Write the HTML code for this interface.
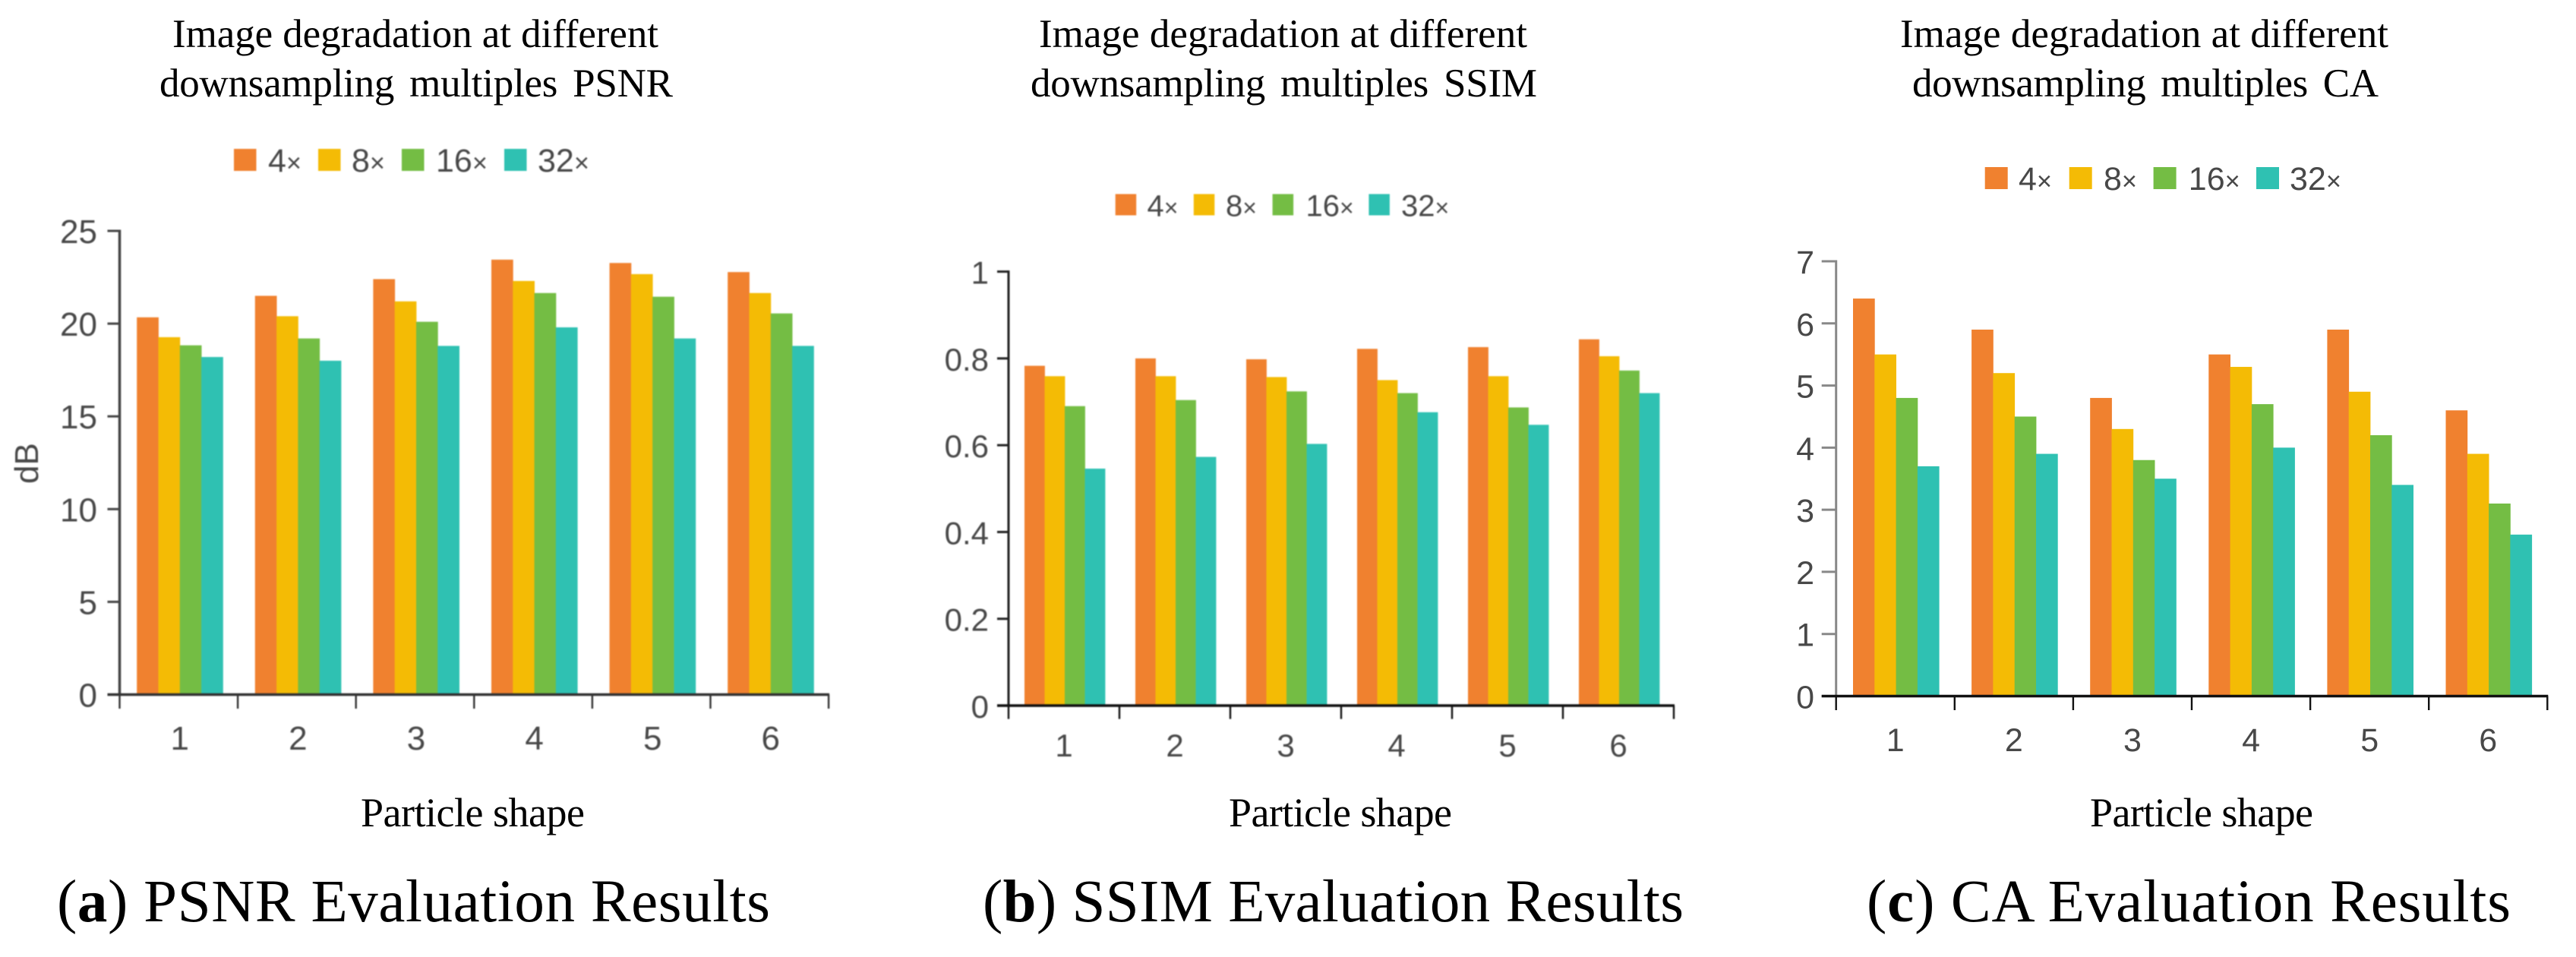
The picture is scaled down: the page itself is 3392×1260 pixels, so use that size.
<!DOCTYPE html>
<html lang="en">
<head>
<meta charset="utf-8">
<title>Image degradation evaluation results</title>
<style>
html,body{margin:0;padding:0;background:#fff;width:3392px;height:1260px;overflow:hidden}
svg{display:block}
.title{font-family:"Liberation Serif",serif;font-size:53px;fill:#000}
.xtitle{font-family:"Liberation Serif",serif;font-size:54px;fill:#000}
.caption{font-family:"Liberation Serif",serif;font-size:79px;fill:#000}
.tick{font-family:"Liberation Sans",sans-serif;fill:#484848}
.legend{font-family:"Liberation Sans",sans-serif;fill:#484848}
.soft{filter:blur(0.8px)}
</style>
</head>
<body>
<svg id="figure" xmlns="http://www.w3.org/2000/svg" width="3392" height="1260" viewBox="0 0 3392 1260">
  <rect x="0" y="0" width="3392" height="1260" fill="#fff"/>

  <g id="panel-a">
    <text class="title" x="227" y="62" textLength="640">Image degradation at different</text>
    <text class="title" x="210" y="127" textLength="676" style="word-spacing:7px">downsampling multiples PSNR</text>
    <text class="tick soft" font-size="44" transform="translate(50,637) rotate(-90)">dB</text>
    <text class="xtitle" x="475" y="1088" textLength="295">Particle shape</text>
    <text class="caption" x="75" y="1213" textLength="939">(<tspan font-weight="bold">a</tspan>) PSNR Evaluation Results</text>
  </g>

  <g id="panel-b">
    <text class="title" x="1368" y="62" textLength="643">Image degradation at different</text>
    <text class="title" x="1357" y="127" textLength="667" style="word-spacing:7px">downsampling multiples SSIM</text>
    <text class="xtitle" x="1618" y="1088" textLength="294">Particle shape</text>
    <text class="caption" x="1294" y="1213" textLength="923">(<tspan font-weight="bold">b</tspan>) SSIM Evaluation Results</text>
  </g>

  <g id="panel-c">
    <text class="title" x="2502" y="62" textLength="643">Image degradation at different</text>
    <text class="title" x="2518" y="127" textLength="614" style="word-spacing:7px">downsampling multiples CA</text>
    <text class="xtitle" x="2752" y="1088" textLength="294">Particle shape</text>
    <text class="caption" x="2458" y="1213" textLength="848">(<tspan font-weight="bold">c</tspan>) CA Evaluation Results</text>
  </g>
</svg>

<script>
// Shared categories and series labels
const categories = ['1', '2', '3', '4', '5', '6'];
const seriesLabels = ['4×', '8×', '16×', '32×'];
const seriesColors = ['#F0812F', '#F4BB05', '#74BD44', '#2FC1B2'];

// PSNR values (dB)
const psnr4x = [20.34, 21.5, 22.4, 23.45, 23.27, 22.78];
const psnr8x = [19.27, 20.4, 21.2, 22.3, 22.67, 21.65];
const psnr16x = [18.83, 19.2, 20.1, 21.65, 21.45, 20.55];
const psnr32x = [18.2, 18.0, 18.8, 19.8, 19.2, 18.8];
const psnrTicks = [0, 5, 10, 15, 20, 25];
const psnrTickLabels = ['0', '5', '10', '15', '20', '25'];

// SSIM values
const ssim4x = [0.783, 0.8, 0.798, 0.822, 0.826, 0.844];
const ssim8x = [0.759, 0.759, 0.757, 0.75, 0.759, 0.805];
const ssim16x = [0.69, 0.704, 0.724, 0.72, 0.687, 0.772];
const ssim32x = [0.546, 0.573, 0.603, 0.676, 0.647, 0.72];
const ssimTicks = [0, 0.2, 0.4, 0.6, 0.8, 1];
const ssimTickLabels = ['0', '0.2', '0.4', '0.6', '0.8', '1'];

// CA values
const ca4x = [6.4, 5.9, 4.8, 5.5, 5.9, 4.6];
const ca8x = [5.5, 5.2, 4.3, 5.3, 4.9, 3.9];
const ca16x = [4.8, 4.5, 3.8, 4.7, 4.2, 3.1];
const ca32x = [3.7, 3.9, 3.5, 4.0, 3.4, 2.6];
const caTicks = [0, 1, 2, 3, 4, 5, 6, 7];
const caTickLabels = ['0', '1', '2', '3', '4', '5', '6', '7'];

const SVG_NS = 'http://www.w3.org/2000/svg';

function make(tag, attrs, parent) {
  const el = document.createElementNS(SVG_NS, tag);
  for (const key in attrs) {
    el.setAttribute(key, attrs[key]);
  }
  parent.appendChild(el);
  return el;
}

function drawChart(panelId, series, ticks, tickLabels, layout) {
  const panel = document.getElementById(panelId);
  const chart = make('g', { class: layout.soft ? 'soft' : '' }, panel);
  
  
  const maxValue = ticks[ticks.length - 1];
  const yScale = function (v) {
    return layout.y0 - (v / maxValue) * (layout.y0 - layout.yTop);
  };
  const xBand = function (i) {
    return layout.x0 + layout.step * i;
  };

  // Bars
  const barsGroup = make('g', {}, chart);
  
  
  series.forEach(function (values, s) {
    values.forEach(function (value, c) {
      const top = yScale(value);
      const bar = make('rect', {
        x: xBand(c) + layout.pad + s * layout.barWidth,
        y: top,
        width: layout.barWidth + 0.4,
        height: layout.y0 - top,
        fill: seriesColors[s]
      }, barsGroup);
      
      
    });
  });

  // Y axis
  const yAxis = make('line', {
    x1: layout.x0, x2: layout.x0, y1: layout.yTop - 1.5, y2: layout.y0,
    stroke: layout.yColor, 'stroke-width': layout.yWidth
  }, chart);
  
  

  ticks.forEach(function (t, i) {
    const y = yScale(t);
    const tick = make('line', {
      x1: layout.x0 - layout.yTickLen, x2: layout.x0, y1: y, y2: y,
      stroke: layout.yColor, 'stroke-width': 3
    }, chart);
    
    
    const label = make('text', {
      class: 'tick', x: layout.yLabelX, y: y + 16, 'text-anchor': 'end', 'font-size': layout.tickFont
    }, chart);
    
    
    label.textContent = tickLabels[i];
  });

  // X axis
  const xAxis = make('line', {
    x1: layout.x0 - layout.yTickLen, x2: xBand(categories.length) + 1, y1: layout.y0, y2: layout.y0,
    stroke: layout.xColor, 'stroke-width': 3.5
  }, chart);
  
  

  for (let i = 0; i <= categories.length; i++) {
    const tick = make('line', {
      x1: xBand(i), x2: xBand(i), y1: layout.y0, y2: layout.xTickEnd,
      stroke: layout.xColor, 'stroke-width': 2.4
    }, chart);
    
    
  }

  categories.forEach(function (cat, i) {
    const label = make('text', {
      class: 'tick', x: xBand(i) + layout.step / 2 + layout.labelShift, y: layout.xLabelY, 'text-anchor': 'middle', 'font-size': layout.tickFont
    }, chart);
    
    
    label.textContent = cat;
  });

  // Legend
  const legend = make('g', {}, chart);
  
  
  seriesLabels.forEach(function (name, s) {
    const swatch = make('rect', {
      x: layout.legendSwatchX[s], y: layout.legendY, width: layout.swatchW, height: layout.swatchH, fill: seriesColors[s]
    }, legend);
    
    
    const text = make('text', {
      class: 'legend', x: layout.legendTextX[s], y: layout.legendY + layout.swatchH + 1, 'font-size': layout.legendFont
    }, legend);
    
    
    text.appendChild(document.createTextNode(name.slice(0, -1)));
    const times = make('tspan', { 'font-size': layout.legendFont * 0.8 }, text);
    times.textContent = name.slice(-1);
  });
}

drawChart('panel-a', [psnr4x, psnr8x, psnr16x, psnr32x], psnrTicks, psnrTickLabels, {
  x0: 157.5, step: 155.6, pad: 22.7, barWidth: 28.3,
  y0: 914.5, yTop: 304, yTickLen: 16, yLabelX: 128, tickFont: 44,
  xTickEnd: 933, xLabelY: 987, labelShift: 1.5,
  yColor: '#444444', xColor: '#333333', yWidth: 3.5, soft: true,
  legendSwatchX: [308, 419, 529, 664], legendTextX: [353, 463, 574, 708],
  legendY: 196, swatchW: 29.5, swatchH: 29, legendFont: 43
});

drawChart('panel-b', [ssim4x, ssim8x, ssim16x, ssim32x], ssimTicks, ssimTickLabels, {
  x0: 1328, step: 146, pad: 21, barWidth: 26.5,
  y0: 929, yTop: 357.6, yTickLen: 15, yLabelX: 1302, tickFont: 42,
  xTickEnd: 946.6, xLabelY: 996, labelShift: 0,
  yColor: '#222222', xColor: '#111111', yWidth: 3, soft: true,
  legendSwatchX: [1468.7, 1571.8, 1675.6, 1802.4], legendTextX: [1510.5, 1614, 1719.5, 1845],
  legendY: 255.5, swatchW: 27.5, swatchH: 28, legendFont: 40
});

drawChart('panel-c', [ca4x, ca8x, ca16x, ca32x], caTicks, caTickLabels, {
  x0: 2417.7, step: 156.1, pad: 22.3, barWidth: 28.3,
  y0: 916.5, yTop: 344, yTickLen: 19, yLabelX: 2389, tickFont: 43,
  xTickEnd: 935, xLabelY: 989, labelShift: 0,
  yColor: '#888888', xColor: '#111111', yWidth: 3, soft: false,
  legendSwatchX: [2613.7, 2724.7, 2835.6, 2971], legendTextX: [2658, 2770, 2881.8, 3015],
  legendY: 220, swatchW: 30, swatchH: 29, legendFont: 43
});
</script>
</body>
</html>
